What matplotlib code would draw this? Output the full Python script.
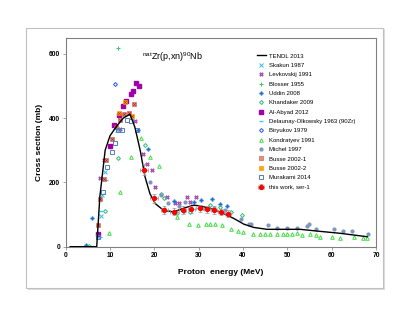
import matplotlib
matplotlib.use('Agg')
import matplotlib.pyplot as plt
from matplotlib.patches import Rectangle

plt.rcParams['font.family'] = ['Liberation Sans', 'DejaVu Sans']
plt.rcParams['mathtext.fontset'] = 'custom'
plt.rcParams['mathtext.rm'] = 'Liberation Sans'

# TENDL 2013 curve
tendl_e = [1, 7.0, 7.7, 8.9, 10.0, 11.5, 13.0, 14.5, 15.6, 16.8, 17.9, 19.0, 20.2, 22.0, 24.3,
           26.5, 28.8, 30.3, 32.6, 34.8, 37.9, 40.2, 42.4, 45.4, 49.9, 52.9, 56.7, 62.0, 68.0]
tendl_s = [0, 0, 155, 300, 345, 375, 400, 412, 372, 300, 217, 165, 134, 114, 108,
           119, 129, 127, 119, 108, 88, 70, 60, 54, 54, 54, 48.6, 41.5, 31]

skakun_e = [7.4, 8.0, 8.3, 8.9, 11.5]
skakun_s = [31, 95, 160, 233, 362]

levk_e = [7.7, 8.6, 12.3, 15.6, 17.4, 18.3, 19.4, 20.2, 22.9, 24.7, 25.6, 27.3, 28.0, 29.5]
levk_s = [214, 271, 367, 390, 287, 256, 238, 186, 155, 135, 137, 153, 140, 155]

blosser_e = [11.9]
blosser_s = [619]

uddin_e = [4.6, 6.0, 16.2, 18.6, 24.4, 26.8, 29.0, 30.5, 32.9, 34.8, 36.5]
uddin_s = [6, 90, 364, 303, 142, 111, 140, 146, 147, 133, 127]

khand_e = [5.3, 8.9, 11.7, 17.9, 21.4, 22.2, 25.0, 28.0, 31.0, 32.6, 34.8, 37.4, 39.7]
khand_s = [3, 112, 276, 316, 163, 150, 105, 109, 120, 129, 124, 109, 98]

alabyad_e = [7.4, 10.0, 10.9, 12.0, 12.9, 13.6, 14.7, 15.2, 15.9, 16.6]
alabyad_s = [40, 312, 380, 409, 439, 453, 474, 484, 510, 500]

delaunay_e = [7.7, 7.9, 9.1, 11.4]
delaunay_s = [31, 112, 207, 365]

biryukov_e = [11.1]
biryukov_s = [505]

kondr_e = [9.8, 12.3, 14.8, 17.0, 19.0, 21.1, 22.4, 25.0, 27.9, 29.9, 31.6, 32.6, 33.7, 35.2, 37.4,
           38.9, 40.0, 42.3, 43.8, 45.0, 46.1, 47.6, 49.0, 50.0, 51.0, 52.1, 53.2, 55.1, 56.4,
           57.4, 60.0, 61.9, 65.0, 67.0, 67.9]
kondr_s = [43, 169, 279, 339, 279, 250, 116, 93, 72, 67, 72, 70, 72, 67, 54,
           49, 45, 39, 39, 39, 41, 41, 41, 41, 41, 43, 36, 39, 35,
           29, 31, 26, 29, 26, 26]

michel_e = [19.0, 21.5, 23.0, 25.5, 27.0, 33.5, 36.0, 39.5, 41.4, 41.8, 45.7, 47.7, 50.0, 52.2,
            54.5, 54.9, 56.5, 60.6, 62.6, 64.5, 68.3]
michel_s = [200, 160, 135, 128, 140, 120, 115, 85, 70, 70, 67, 57, 59, 57,
            64, 72, 55, 55, 50, 49, 39]

busse1_e = [7.4, 7.7, 8.6, 9.1, 10.4, 11.4, 12.3, 13.2, 14.2, 15.3]
busse1_s = [67, 149, 209, 269, 334, 372, 393, 412, 416, 443]

busse2_e = [12.0, 13.3, 14.9]
busse2_s = [416, 451, 405]

murakami_e = [7.4, 8.5, 9.4, 10.4, 11.1, 11.9, 12.8, 13.8, 14.7, 16.0]
murakami_s = [31, 171, 248, 295, 321, 364, 364, 393, 391, 364]

work_e = [17.6, 20.0, 22.2, 24.4, 26.4, 28.3, 30.2, 31.8, 33.5, 35.0, 36.6]
work_s = [240, 150, 114, 108, 114, 117, 119, 117, 114, 107, 103]
work_de = [0.9, 0.9, 0.8, 0.8, 0.8, 0.8, 0.7, 0.7, 0.7, 0.7, 0.7]
work_ds = [18, 14, 12, 11, 11, 11, 11, 11, 11, 10, 10]

fig = plt.figure(figsize=(4.15, 3.21), dpi=100)
# grey frame with a light shadow round the plot
fig.patches.append(Rectangle((28 / 415, 31 / 321), 357 / 415, 261 / 321, transform=fig.transFigure,
                             facecolor='#dcdcdc', edgecolor='none', zorder=-10))
fig.patches.append(Rectangle((26 / 415, 33 / 321), 357 / 415, 260 / 321, transform=fig.transFigure,
                             facecolor='white', edgecolor='#c0c0c0', linewidth=0.8, zorder=-9))

ax = fig.add_axes([0.1583, 0.2315, 0.7477, 0.6511])
ax.set_facecolor('none')

ms = 2.6
ax.plot(tendl_e, tendl_s, color='black', lw=1.0, label='TENDL 2013', zorder=5)
ax.plot(skakun_e, skakun_s, 'x', color='#33bbee', ms=ms, mew=0.7, label='Skakun 1987')
ax.plot(levk_e, levk_s, 'X', color='#cc66cc', mec='#8a2a9a', ms=ms, mew=0.4, label='Levkovskij 1991')
ax.plot(blosser_e, blosser_s, '+', color='#33cc66', ms=ms, mew=0.7, label='Blosser 1955')
ax.plot(uddin_e, uddin_s, 'P', color='#1f6fd0', ms=ms, mew=0.3, label='Uddin 2008')
ax.plot(khand_e, khand_s, 'D', mfc='none', mec='#33bb77', ms=2.0, mew=0.7, label='Khandaker 2009')
ax.plot(alabyad_e, alabyad_s, 's', color='#a000a8', ms=ms, label='Al-Abyad 2012')
ax.plot(delaunay_e, delaunay_s, '_', color='#33ccff', ms=ms + 0.5, mew=1.0, label='Delaunay-Olkowsky 1963 (90Zr)')
ax.plot(biryukov_e, biryukov_s, 'D', mfc='none', mec='#2255ee', ms=2.0, mew=0.7, label='Biryukov 1979')
ax.plot(kondr_e, kondr_s, '^', mfc='none', mec='#44dd44', ms=ms, mew=0.7, label='Kondratyev 1991')
ax.plot(michel_e, michel_s, 'o', color='#7f97c0', ms=2.0, label='Michel 1997')
ax.plot(busse1_e, busse1_s, 's', mfc='#e8907a', mec='#c0504d', ms=ms + 0.4, mew=0.4, label='Busse 2002-1')
ax.plot(busse1_e, busse1_s, 'x', color='#a03020', ms=ms - 0.6, mew=0.5)
ax.plot(busse2_e, busse2_s, 's', mfc='#ffaa00', mec='#ff8800', ms=ms + 0.4, mew=0.4, label='Busse 2002-2')
ax.plot(busse2_e, busse2_s, 'x', color='#c03000', ms=ms - 0.6, mew=0.5)
ax.plot(murakami_e, murakami_s, 's', mfc='none', mec='#4f81bd', ms=ms + 0.6, mew=0.7, label='Murakami 2014')
ax.errorbar(work_e, work_s, xerr=work_de, yerr=work_ds, fmt='o', color='#ff0000', ms=2.8,
            ecolor='#999999', elinewidth=0.6, capsize=1.2, capthick=0.5, label='this work, ser-1', zorder=6)

ax.set_xlim(0, 70)
ax.set_ylim(0, 650)
ax.set_xticks([0, 10, 20, 30, 40, 50, 60, 70])
ax.set_yticks([0, 200, 400, 600])
ax.tick_params(labelsize=4.8, length=2, width=0.5, color='#808080', pad=2)
for lab in ax.get_xticklabels() + ax.get_yticklabels():
    lab.set_fontweight('bold')
for sp in ax.spines.values():
    sp.set_color('#808080')
    sp.set_linewidth(0.8)

ax.set_xlabel('Proton  energy (MeV)', fontsize=6, fontweight='bold', labelpad=7)
ax.set_ylabel('Cross section (mb)', fontsize=6, fontweight='bold', labelpad=4)
ax.text(24, 590, r'$^{\mathrm{nat}}$Zr(p,xn)$^{90}$Nb', fontsize=6.5, ha='center', va='center')

ax.legend(loc='upper left', bbox_to_anchor=(0.615, 0.925), frameon=False, fontsize=4.3,
          handlelength=1.6, handletextpad=0.5, labelspacing=0.7, borderaxespad=0, borderpad=0)

plt.savefig('out.png', dpi=100)
plt.close('all')
